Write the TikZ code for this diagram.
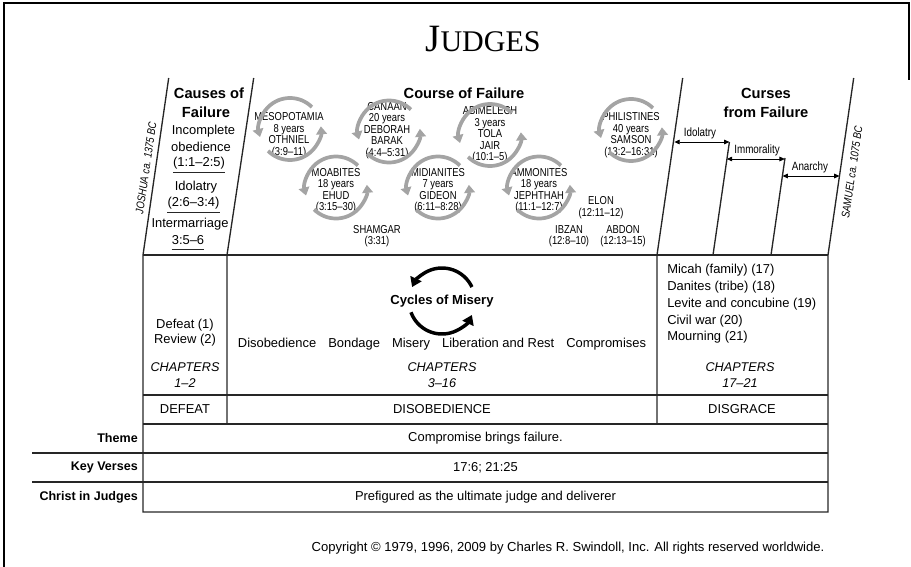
\documentclass[tikz,border=0pt]{standalone}
\usepackage{fontspec}
\setmainfont{Liberation Sans}
\newfontfamily\darYazi[FakeStretch=0.82]{Liberation Sans}
\newfontfamily\baslikYazi{Liberation Serif}
\usepackage{tikz}
\usetikzlibrary{arrows.meta}
\definecolor{gri}{HTML}{A4A4A4}
\definecolor{koyu}{HTML}{262626}

\begin{document}
\begin{tikzpicture}[x=0.75pt,y=0.75pt,
  govde/.style={font=\fontsize{9.7}{11.3}\selectfont,align=center,inner sep=0pt},
  bolum/.style={font=\bfseries\fontsize{11}{14.2}\selectfont,align=center,inner sep=0pt},
  bolumNo/.style={font=\itshape\fontsize{9.5}{12}\selectfont,align=center,inner sep=0pt},
  hakim/.style={font=\darYazi\fontsize{8.6}{8.6}\selectfont,align=center,inner sep=0pt},
  lanetYazi/.style={font=\darYazi\fontsize{9}{10}\selectfont,inner sep=0pt},
  tarih/.style={font=\darYazi\itshape\fontsize{8.5}{9}\selectfont,rotate=81.7,inner sep=0pt},
  satir/.style={font=\bfseries\fontsize{9.4}{11}\selectfont,anchor=east,inner sep=0pt},
  dongu/.style={gri,line width=2.8pt,-{Triangle[length=6pt,width=8pt]}},
  donguSiyah/.style={black,line width=2.6pt,-{Triangle[length=7pt,width=9pt]}},
  lanetOk/.style={line width=0.6pt,{Triangle[length=4pt,width=3.5pt]}-{Triangle[length=4pt,width=3.5pt]}},
  cizgi/.style={koyu,line width=1pt}]
\useasboundingbox (0,0) rectangle (911,-567);
\draw[line width=1.5pt] (4,-567)--(4,-3)--(909,-3)--(909,-80);
\node[anchor=base] (baslik) at (483,-52) {\baslikYazi\fontsize{29}{29}\selectfont J\fontsize{22.5}{22.5}\selectfont UDGES};

\draw[cizgi] (168.7,-78)--(143,-255)--(143,-512)--(828,-512)--(828,-255)--(853.7,-78);
\draw[cizgi] (253.7,-78)--(227,-255)--(227,-424);
\draw[cizgi] (682.7,-78)--(657,-255)--(657,-424);
\draw[cizgi] (729.4,-142)--(713,-255);
\draw[cizgi] (785,-158)--(771,-255);
\draw[cizgi] (143,-255)--(828,-255);
\draw[cizgi] (143,-395)--(828,-395);
\draw[cizgi] (143,-424)--(828,-424);
\draw[cizgi] (32,-453)--(828,-453);
\draw[cizgi] (32,-482)--(828,-482);

\node[tarih] (yesu) at (146,-168) {JOSHUA ca. 1375 BC};
\node[tarih] (samuel) at (852,-172) {SAMUEL ca. 1075 BC};

\node[bolum] (sebep1) at (209,-93) {Causes of};
\node[bolum] (sebep2) at (206,-112) {Failure};
\node[govde] (eksik1) at (203.5,-131) {Incomplete};
\node[govde] (eksik2) at (201,-147) {obedience};
\node[govde] (eksikA) at (199,-163) {(1:1–2:5)};
\node[govde] (puta) at (196,-187) {Idolatry};
\node[govde] (putaA) at (193.5,-203) {(2:6–3:4)};
\node[govde] (evlilik) at (190,-224) {Intermarriage};
\node[govde] (evlilikA) at (188,-240) {3:5–6};
\draw[cizgi,line width=0.9pt] ([yshift=-2.5pt]eksikA.south west)--([yshift=-2.5pt]eksikA.south east);
\draw[cizgi,line width=0.9pt] ([yshift=-2.5pt]putaA.south west)--([yshift=-2.5pt]putaA.south east);
\draw[cizgi,line width=0.9pt] ([yshift=-3.5pt]evlilikA.south west)--([yshift=-3.5pt]evlilikA.south east);

\node[bolum] (gidis) at (464,-93) {Course of Failure};
\node[hakim] (mezopotamya) at (289,-135) {MESOPOTAMIA\\8 years\\OTHNIEL\\(3:9–11)};
\node[hakim] (kenan) at (387,-130.5) {CANAAN\\20 years\\DEBORAH\\BARAK\\(4:4–5:31)};
\node[hakim] (moab) at (336,-190.5) {MOABITES\\18 years\\EHUD\\(3:15–30)};
\node[hakim] (samgar) at (377,-236) {SHAMGAR\\(3:31)};
\node[hakim] (midyan) at (438,-190.5) {MIDIANITES\\7 years\\GIDEON\\(6:11–8:28)};
\node[hakim] (abimelek) at (490,-135) {ABIMELECH\\3 years\\TOLA\\JAIR\\(10:1–5)};
\node[hakim] (ammon) at (539,-190.5) {AMMONITES\\18 years\\JEPHTHAH\\(11:1–12:7)};
\node[hakim] (elon) at (601,-207.5) {ELON\\(12:11–12)};
\node[hakim] (ibzan) at (569,-236) {IBZAN\\(12:8–10)};
\node[hakim] (abdon) at (623,-236) {ABDON\\(12:13–15)};
\node[hakim] (filist) at (631,-135) {PHILISTINES\\40 years\\SAMSON\\(13:2–16:31)};
\draw[dongu] (mezopotamya) ++(1,6) ++(45:31) arc[start angle=45,end angle=195,radius=31];
\draw[dongu] (mezopotamya) ++(1,6) ++(225:31) arc[start angle=225,end angle=365,radius=31];
\draw[dongu] (kenan) ++(2,-1) ++(45:31) arc[start angle=45,end angle=195,radius=31];
\draw[dongu] (kenan) ++(2,-1) ++(225:31) arc[start angle=225,end angle=365,radius=31];
\draw[dongu] (moab) ++(0,3) ++(45:31) arc[start angle=45,end angle=195,radius=31];
\draw[dongu] (moab) ++(0,3) ++(225:31) arc[start angle=225,end angle=365,radius=31];
\draw[dongu] (midyan) ++(0,3) ++(45:31) arc[start angle=45,end angle=195,radius=31];
\draw[dongu] (midyan) ++(0,3) ++(225:31) arc[start angle=225,end angle=365,radius=31];
\draw[dongu] (abimelek) ++(45:31) arc[start angle=45,end angle=195,radius=31];
\draw[dongu] (abimelek) ++(225:31) arc[start angle=225,end angle=365,radius=31];
\draw[dongu] (ammon) ++(0,3) ++(45:31) arc[start angle=45,end angle=195,radius=31];
\draw[dongu] (ammon) ++(0,3) ++(225:31) arc[start angle=225,end angle=365,radius=31];
\draw[dongu] (filist) ++(0,5) ++(45:31) arc[start angle=45,end angle=195,radius=31];
\draw[dongu] (filist) ++(0,5) ++(225:31) arc[start angle=225,end angle=365,radius=31];

\node[bolum] (lanet) at (766,-102.5) {Curses\\from Failure};
\coordinate (put1) at (674.4,-142);
\coordinate (put2) at (729.4,-142);
\coordinate (ahlak1) at (726.9,-159);
\coordinate (ahlak2) at (784.8,-159);
\coordinate (kaos1) at (782.5,-176);
\coordinate (kaos2) at (839.5,-176);
\draw[lanetOk] (put1)--(put2);
\draw[lanetOk] (ahlak1)--(ahlak2);
\draw[lanetOk] (kaos1)--(kaos2);
\node[lanetYazi] (putperestlik) at (700,-133) {Idolatry};
\node[lanetYazi] (ahlaksizlik) at (757,-150) {Immorality};
\node[lanetYazi] (anarsi) at (810,-167) {Anarchy};

\node[govde] (yenilgi) at (185,-332.5) {Defeat (1)\\Review (2)};
\node[bolumNo] (bolum1) at (185,-375) {CHAPTERS\\1–2};
\node[font=\bfseries\fontsize{9.8}{11}\selectfont,inner sep=0pt] (sefalet) at (442,-301) {Cycles of Misery};
\draw[donguSiyah] (sefalet) ++(25:33) arc[start angle=25,end angle=155,radius=33];
\draw[donguSiyah] (sefalet) ++(200:33) arc[start angle=200,end angle=335,radius=33];
\node[govde] (adimlar) at (442,-344) {Disobedience\hspace{9pt}Bondage\hspace{9pt}Misery\hspace{9pt}Liberation and Rest\hspace{9pt}Compromises};
\node[bolumNo] (bolum2) at (442,-375) {CHAPTERS\\3–16};
\node[govde,font=\fontsize{9.7}{12.6}\selectfont,align=left,anchor=north west] (olaylar) at (667,-264) {Micah (family) (17)\\Danites (tribe) (18)\\Levite and concubine (19)\\Civil war (20)\\Mourning (21)};
\node[bolumNo] (bolum3) at (740,-375) {CHAPTERS\\17–21};

\node[govde] (yenilgiB) at (185,-409.5) {DEFEAT};
\node[govde] (itaatsizlik) at (442,-409.5) {DISOBEDIENCE};
\node[govde] (rezalet) at (742,-409.5) {DISGRACE};

\node[satir] (tema) at (138,-438.5) {Theme};
\node[satir] (ayetler) at (138,-467.5) {Key Verses};
\node[satir] (mesih) at (138,-497) {Christ in Judges};
\node[govde] (temaY) at (485.5,-438.5) {Compromise brings failure.};
\node[govde] (ayetlerY) at (485.5,-467.5) {17:6; 21:25};
\node[govde] (mesihY) at (485.5,-497) {Prefigured as the ultimate judge and deliverer};
\node[govde,font=\fontsize{9.8}{12}\selectfont] (telif) at (568,-548) {Copyright © 1979, 1996, 2009 by Charles R. Swindoll, Inc. All rights reserved worldwide.};
\end{tikzpicture}
\end{document}
